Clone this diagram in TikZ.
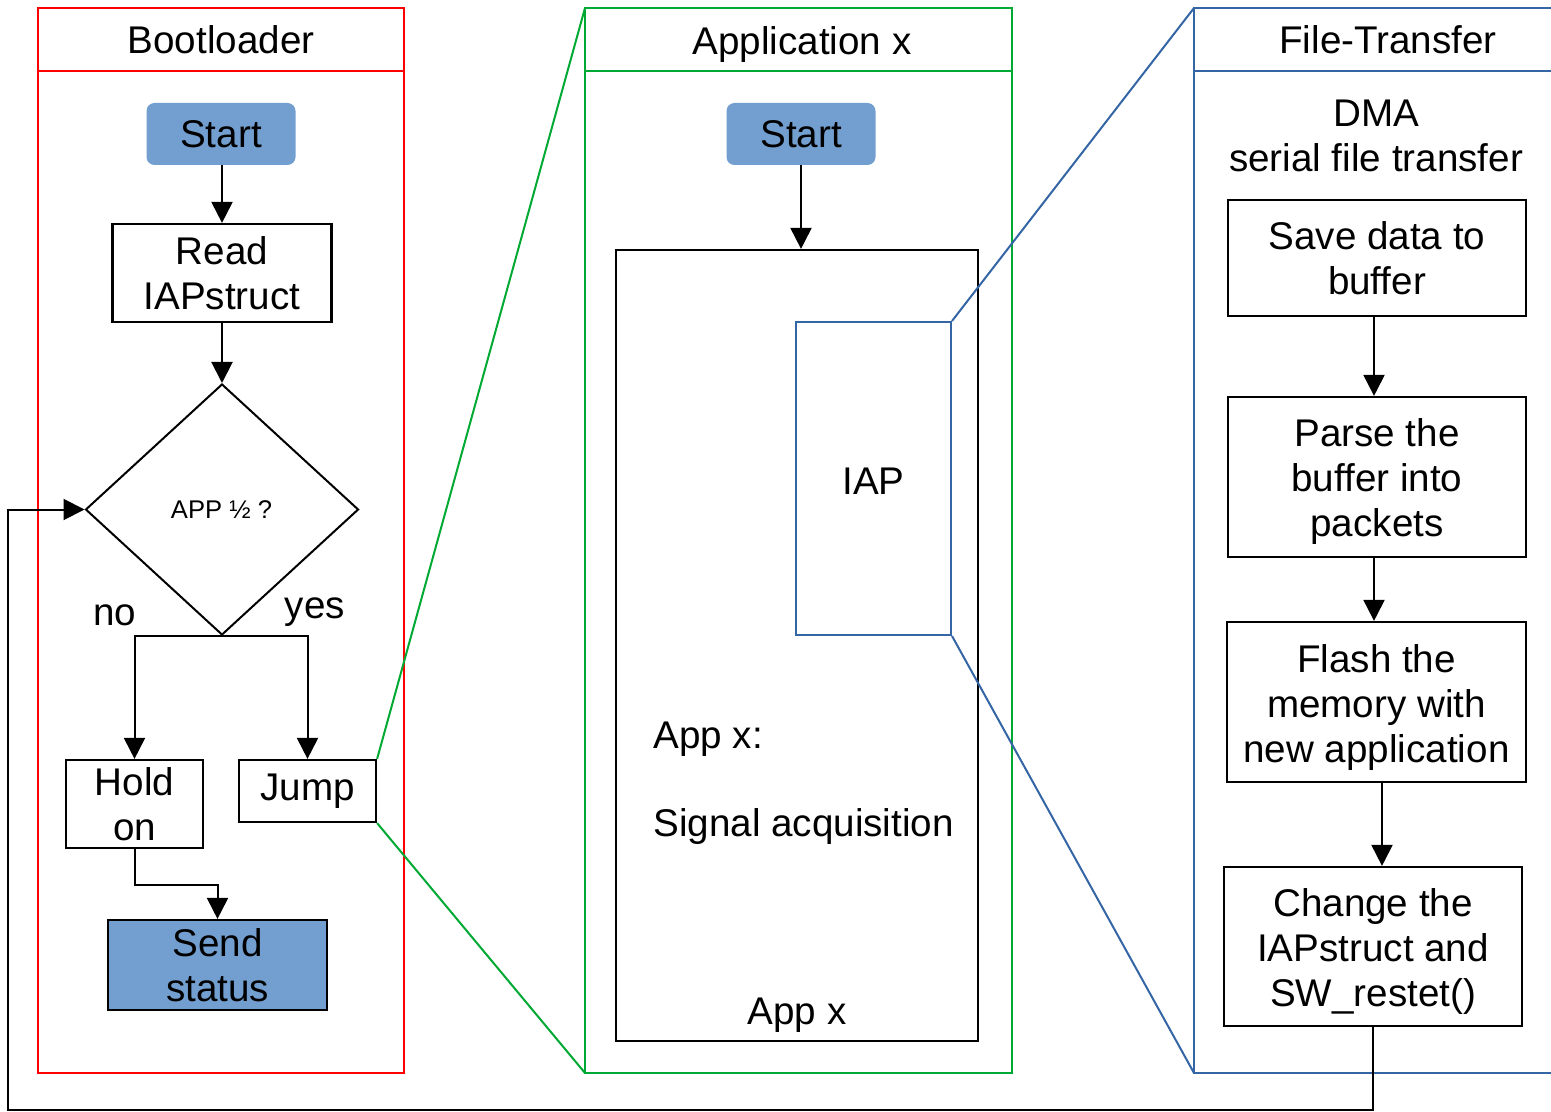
\documentclass[tikz,border=0pt]{standalone}
\usepackage{fontspec}
\setmainfont{Liberation Sans}
\usetikzlibrary{shapes.geometric,arrows.meta,calc}
\definecolor{laneRed}{HTML}{FF0000}
\definecolor{laneGreen}{HTML}{00A933}
\definecolor{laneBlue}{HTML}{3465A4}
\definecolor{boxFill}{HTML}{729FCF}
\newcommand{\toppad}{\rule{0pt}{19pt}}
\newcommand{\smallpad}{\rule{0pt}{16pt}}
\tikzset{
  every node/.style={font=\fontsize{19.3}{22.5}\selectfont, inner sep=0pt, align=center},
  procbox/.style={draw=black, line width=1.1pt, rectangle},
  termbox/.style={fill=boxFill, rounded corners=4pt, minimum width=74.5pt, minimum height=31pt},
  decbox/.style={draw=black, line width=1pt, diamond, minimum width=136.5pt, minimum height=125.5pt},
  flow/.style={draw=black, line width=1pt, -{Triangle[length=10.5pt,width=10.5pt]}},
  link/.style={line width=1pt},
  lane/.style={line width=1.1pt},
}
\begin{document}
\begin{tikzpicture}[x=0.5pt,y=-0.5pt]
\useasboundingbox (0,0) rectangle (1551,1112);
\clip (0,0) rectangle (1551,1112);

% swimlanes
\draw[lane, laneRed] (38,8) rectangle (404,1073) (38,71) -- (404,71);
\draw[lane, laneGreen] (585,8) rectangle (1012,1073) (585,71) -- (1012,71);
\draw[lane, laneBlue] (1194,8) rectangle (1570,1073) (1194,71) -- (1570,71);
\node[anchor=base] (t1) at (221,54) {Bootloader};
\node[anchor=base] (t2) at (802,55) {Application x};
\node[anchor=base] (t3) at (1388,54) {File-Transfer};

\coordinate (gTop) at (585,8);
\coordinate (gBot) at (585,1073);
\coordinate (bTop) at (1194,8);
\coordinate (bBot) at (1194,1073);

% Bootloader flow
\node[termbox] (startA) at (221,134) {Start};
\node[procbox, minimum width=109.5pt, minimum height=49pt] (read) at (222,273) {Read\\IAPstruct};
\node[decbox] (dec) at (222,509.5) {};
\node[font=\fontsize{12.8}{15}\selectfont] (decT) at (221.5,510) {APP ½ ?};
\node[procbox, minimum width=68.5pt, minimum height=44pt] (hold) at (134.5,804) {Hold\\on};
\node[procbox, minimum width=68.5pt, minimum height=31pt] (jump) at (307.5,791) {Jump};
\node[procbox, fill=boxFill, minimum width=109.5pt, minimum height=45pt] (send) at (217.5,965) {Send\\status};
\node (no) at (115,615) {no};
\node (yes) at (315,612) {yes};

\draw[flow] (startA.south -| read.north) -- (read.north);
\draw[flow] (read.south) -- (dec.north);
\draw[flow] (dec.south) -| (hold.north);
\draw[flow] (dec.south) -| (jump.north);
\draw[flow] (hold.south) -- ++(0,36) -| (send.north);

% Application x
\node[termbox] (startB) at (801,134) {Start};
\node[procbox, minimum width=181pt, minimum height=395.5pt] (appbox) at (797,645.5) {};
\node[draw=laneBlue, line width=1pt, minimum width=77.5pt, minimum height=156.5pt] (iap) at (873.5,478.5) {\smallpad IAP};
\node[anchor=west] (appA) at (653,739) {App x:};
\node[anchor=west] (appB) at (653,827) {Signal acquisition};
\node (appC) at (797,1015) {App x};
\draw[flow] (startB.south) -- (startB.south |- appbox.north);

% File-Transfer
\node (dma) at (1376,136) {DMA\\serial file transfer};
\node[procbox, minimum width=149pt, minimum height=58pt] (save) at (1377,258) {Save data to\\buffer};
\node[procbox, minimum width=149pt, minimum height=80pt] (parse) at (1377,477) {\toppad Parse the\\buffer into\\packets};
\node[procbox, minimum width=149.5pt, minimum height=80pt] (flash) at (1376.5,702) {\toppad Flash the\\memory with\\new application};
\node[procbox, minimum width=149pt, minimum height=79.5pt] (change) at (1373,946.5) {\toppad Change the\\IAPstruct and\\SW\_restet()};

\draw[flow] ([xshift=-1.5pt]save.south) -- ([xshift=-1.5pt]save.south |- parse.north);
\draw[flow] ([xshift=-1.5pt]parse.south) -- ([xshift=-1.5pt]parse.south |- flash.north);
\draw[flow] ([xshift=2.75pt]flash.south) -- ([xshift=2.75pt]flash.south |- change.north);

% return path to the decision
\draw[flow] (change.south) |- (8,1110) |- (dec.west);

% zoom-out connectors
\draw[link, laneGreen] (jump.north east) -- (gTop);
\draw[link, laneGreen] (jump.south east) -- (gBot);
\draw[link, laneBlue] (iap.north east) -- (bTop);
\draw[link, laneBlue] (iap.south east) -- (bBot);
\end{tikzpicture}
\end{document}
